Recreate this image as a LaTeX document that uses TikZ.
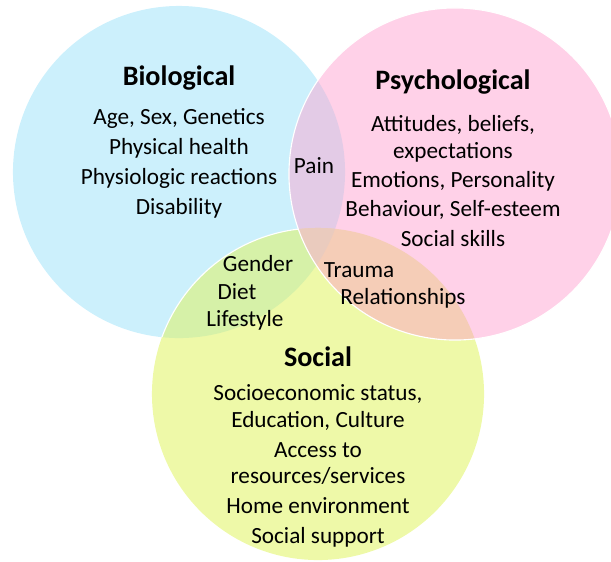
\documentclass[tikz,border=0pt]{standalone}
\usepackage{fontspec}
\setmainfont{Carlito}
\definecolor{bioblue}{HTML}{CCF0FC}
\definecolor{psypink}{HTML}{FFD1E8}
\definecolor{socgreen}{HTML}{EEF9A8}
\definecolor{biopsy}{HTML}{E3CBE6}
\definecolor{biosoc}{HTML}{D6F1A8}
\definecolor{psysoc}{HTML}{F5CDB7}
\definecolor{allthree}{HTML}{EACBBE}

\begin{document}
\begin{tikzpicture}[x=0.025cm, y=-0.025cm,
    heading/.style={font=\fontsize{20}{24}\selectfont\bfseries, inner sep=0pt},
    factor/.style={font=\fontsize{16.5}{18.8}\selectfont, align=center, inner sep=0pt}]
    \useasboundingbox (0,0) rectangle (611,561);

    % Circle centres
    \coordinate (bio) at (179,172);
    \coordinate (psy) at (455,174);
    \coordinate (soc) at (318,394);

    % Biological and social circles
    \fill[bioblue] (bio) circle[radius=4.15cm];
    \fill[socgreen] (soc) circle[radius=4.15cm];
    \begin{scope}
        \clip (bio) circle[radius=4.15cm];
        \fill[biosoc] (soc) circle[radius=4.15cm];
        \draw[white, line width=0.8pt] (soc) circle[radius=4.15cm];
    \end{scope}

    % Psychological circle on top
    \fill[psypink] (psy) circle[radius=4.15cm];
    \begin{scope}
        \clip (psy) circle[radius=4.15cm];
        \fill[biopsy] (bio) circle[radius=4.15cm];
        \fill[psysoc] (soc) circle[radius=4.15cm];
        \clip (bio) circle[radius=4.15cm];
        \fill[allthree] (soc) circle[radius=4.15cm];
    \end{scope}
    \draw[white, line width=0.8pt] (psy) circle[radius=4.15cm];

    % Headings
    \node[heading] (biotitle) at (179,78) {Biological};
    \node[heading] (psytitle) at (453,82) {Psychological};
    \node[heading] (soctitle) at (318,357) {Social};

    % Factors of each circle
    \node[factor] (biolist) at (179,163.5) {Age, Sex, Genetics\\[2.5pt]
        Physical health\\[2.5pt] Physiologic reactions\\[2.5pt] Disability};
    \node[factor] (psylist) at (453,181) {Attitudes, beliefs,\\ expectations\\[2pt]
        Emotions, Personality\\[2pt] Behaviour, Self-esteem\\[2pt] Social skills};
    \node[factor] (soclist) at (318,466) {Socioeconomic status,\\ Education, Culture\\[2.5pt]
        Access to\\ resources/services\\[2.5pt] Home environment\\[2.5pt] Social support};

    % Overlaps
    \node[factor] (pain) at (314,166) {Pain};
    \node[factor] (gender) at (258,264) {Gender};
    \node[factor] (diet) at (237,292) {Diet};
    \node[factor] (lifestyle) at (245,320) {Lifestyle};
    \node[factor] (trauma) at (359,270) {Trauma};
    \node[factor] (relations) at (403,298) {Relationships};
\end{tikzpicture}
\end{document}
